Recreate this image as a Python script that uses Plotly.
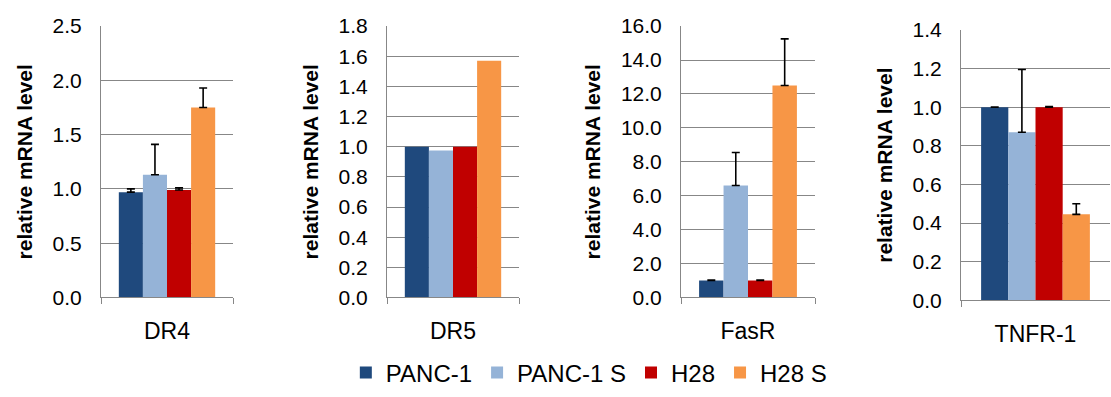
import plotly.graph_objects as go

genes = ["DR4", "DR5", "FasR", "TNFR-1"]
series = ["PANC-1", "PANC-1 S", "H28", "H28 S"]
colors = ["#1F497D", "#95B3D7", "#C00000", "#F79646"]

# values[gene] = [PANC-1, PANC-1 S, H28, H28 S]
values = {
    "DR4": [0.97, 1.13, 0.99, 1.75],
    "DR5": [1.00, 0.975, 1.00, 1.57],
    "FasR": [1.00, 6.6, 1.00, 12.5],
    "TNFR-1": [1.00, 0.87, 1.00, 0.445],
}
errors = {
    "DR4": [0.03, 0.28, 0.02, 0.18],
    "DR5": None,
    "FasR": [0.03, 1.95, 0.03, 2.75],
    "TNFR-1": [0.0, 0.325, 0.003, 0.055],
}
y_max = {"DR4": 2.5, "DR5": 1.8, "FasR": 16.0, "TNFR-1": 1.4}
y_step = {"DR4": 0.5, "DR5": 0.2, "FasR": 2.0, "TNFR-1": 0.2}

W, H = 1111, 397
x_px = [(101, 233), (387, 519), (681, 815), (961, 1110)]
y_px = [(15, 303), (15, 303), (15, 303), (19, 306)]

FONT = "Liberation Sans, Arial, sans-serif"
GRID = "#878787"

fig = go.Figure()
layout = {}
for i, g in enumerate(genes):
    n = "" if i == 0 else str(i + 1)
    xa, ya = "x" + n, "y" + n
    for s, (name, col) in enumerate(zip(series, colors)):
        err = errors[g]
        ey = dict(visible=False)
        if err is not None:
            ey = dict(type="data", array=[err[s]], arrayminus=[0], symmetric=False,
                      color="black", thickness=1.6, width=4, visible=True)
        fig.add_trace(go.Bar(
            x=[g], y=[values[g][s]], name=name, marker_color=col,
            marker_line_width=0, error_y=ey, legendgroup=name,
            showlegend=(i == 0), xaxis=xa, yaxis=ya,
        ))
    x0, x1 = x_px[i]
    yt, yb = y_px[i]
    layout["xaxis" + n] = dict(
        domain=[x0 / W, x1 / W], anchor=ya, showline=True, linecolor=GRID,
        linewidth=1, ticks="outside", tickson="boundaries", ticklen=6,
        tickcolor=GRID, tickfont=dict(size=23, color="black", family=FONT),
        showgrid=False, fixedrange=True, ticklabelstandoff=13,
    )
    layout["yaxis" + n] = dict(
        domain=[1 - yb / H, 1 - yt / H], anchor=xa, range=[0, y_max[g]],
        dtick=y_step[g], tick0=0, tickformat=".1f", showline=True,
        linecolor=GRID, linewidth=1, showgrid=True, gridcolor=GRID,
        gridwidth=1, zeroline=False, ticks="",
        tickfont=dict(size=21, color="black", family=FONT),
        ticklabelstandoff=14,
        title=dict(text="<b>relative mRNA level</b>", standoff=14,
                   font=dict(size=21, color="black", family=FONT)),
    )

fig.update_layout(
    **layout,
    width=W, height=H, margin=dict(l=0, r=0, t=0, b=0),
    plot_bgcolor="white", paper_bgcolor="white",
    barmode="group", bargap=0.27, bargroupgap=0,
    font=dict(family=FONT, color="black"),
    legend=dict(orientation="h", x=0.53, xanchor="center", y=0.035,
                yanchor="middle", font=dict(size=24, color="black", family=FONT),
                itemwidth=30, traceorder="normal"),
)
fig.write_html("out.html")
